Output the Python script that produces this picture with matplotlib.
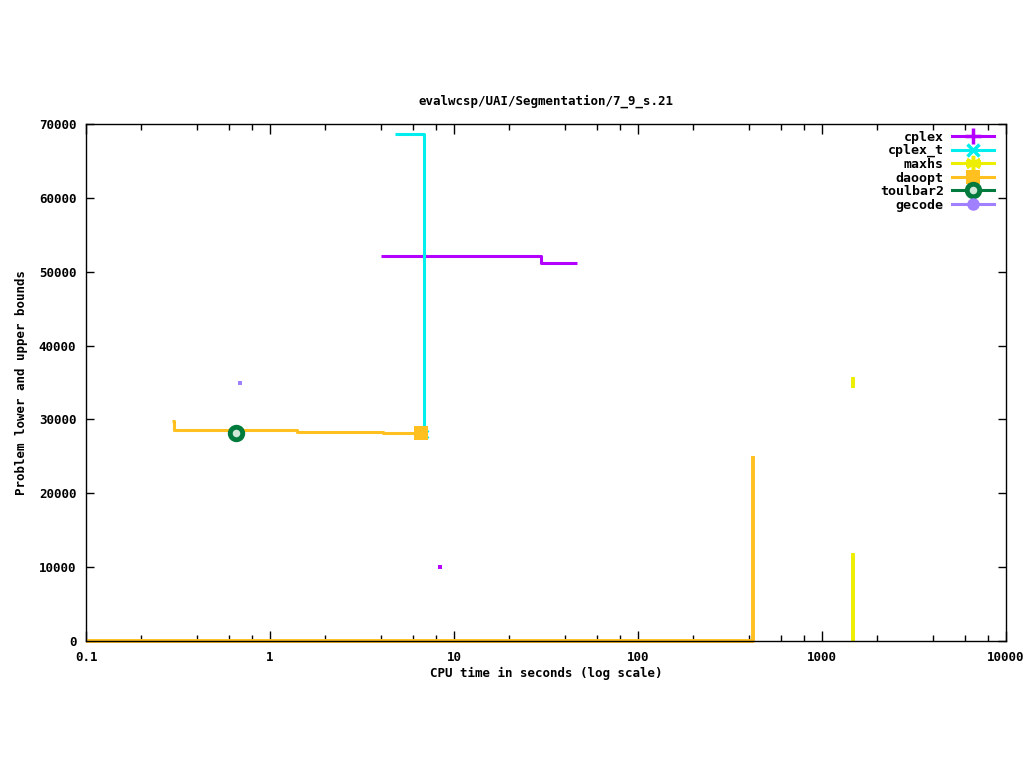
import numpy as np
import matplotlib
matplotlib.use("Agg")
import matplotlib.pyplot as plt
from matplotlib.ticker import LogLocator, FixedLocator, NullFormatter

# ---- data ----
cplex_t_x = [4.78, 6.87, 6.87]
cplex_t_y = [68700, 68700, 27500]

cplex_x = [4.0, 29.7, 29.7, 46.6]
cplex_y = [52100, 52100, 51200, 51200]
cplex_dot_x = [8.4]
cplex_dot_y = [10000]

maxhs_up_x = [1472, 1472]
maxhs_up_y = [35800, 34300]
maxhs_lo_x = [1472, 1472]
maxhs_lo_y = [0, 11900]

daoopt_up_x = [0.293, 0.30, 0.30, 1.40, 1.40, 4.11, 4.11, 6.62]
daoopt_up_y = [29800, 29800, 28550, 28550, 28300, 28300, 28100, 28100]
daoopt_lo_x = [0.1, 421, 421]
daoopt_lo_y = [0, 0, 25000]

toulbar2_x = [0.653]
toulbar2_y = [28150]

gecode_x = [0.687]
gecode_y = [34900]

c_cplex = "#b400ff"
c_cplex_t = "#00eeee"
c_maxhs = "#eeee00"
c_daoopt = "#ffc020"
c_toulbar2 = "#007a3d"
c_gecode = "#a080ff"

plt.rcParams['font.family'] = ['DejaVu Sans Mono']
plt.rcParams['font.weight'] = 'bold'
plt.rcParams['axes.titleweight'] = 'bold'
plt.rcParams['axes.labelweight'] = 'bold'
plt.rcParams['font.size'] = 8

fig = plt.figure(figsize=(10.24, 7.68), dpi=100)
ax = fig.add_axes([86/1024, 1 - 641/768, 920/1024, 517/768])

lw = 2.2
asterisk = (6, 2, 0)
# cplex
ax.plot(cplex_x, cplex_y, color=c_cplex, lw=lw, solid_capstyle='butt')
ax.plot(cplex_dot_x, cplex_dot_y, 's', color=c_cplex, ms=2.5, mew=0)
# cplex_t
ax.plot(cplex_t_x, cplex_t_y, color=c_cplex_t, lw=lw, solid_capstyle='butt')
ax.plot(cplex_t_x[-1], 28000, 'x', color=c_cplex_t, ms=6, mew=2)
# maxhs
ax.plot(maxhs_up_x, maxhs_up_y, color=c_maxhs, lw=lw + 0.6, solid_capstyle='butt')
ax.plot(maxhs_lo_x, maxhs_lo_y, color=c_maxhs, lw=lw + 0.6, solid_capstyle='butt')
# daoopt
ax.plot(daoopt_up_x, daoopt_up_y, color=c_daoopt, lw=lw, solid_capstyle='butt')
ax.plot(daoopt_lo_x, daoopt_lo_y, color=c_daoopt, lw=lw + 0.6, solid_capstyle='butt', clip_on=False)
ax.plot(daoopt_up_x[-1], daoopt_up_y[-1], 's', color=c_daoopt, ms=10, mew=0, zorder=4)
# toulbar2
ax.plot(toulbar2_x, toulbar2_y, 'o', color=c_toulbar2, ms=9, mfc='#cfe8d8', mew=3.5)
# gecode
ax.plot(gecode_x, gecode_y, 's', color=c_gecode, ms=2.5, mew=0)

# legend proxies
handles = [
    plt.Line2D([], [], color=c_cplex, lw=lw, marker='+', ms=11, mew=2.5),
    plt.Line2D([], [], color=c_cplex_t, lw=lw, marker='x', ms=8, mew=2.5),
    plt.Line2D([], [], color=c_maxhs, lw=lw, marker=asterisk, ms=11, mew=2.5),
    plt.Line2D([], [], color=c_daoopt, lw=lw, marker='s', ms=10, mew=0),
    plt.Line2D([], [], color=c_toulbar2, lw=lw, marker='o', ms=9, mfc='#cfe8d8', mew=3.5),
    plt.Line2D([], [], color=c_gecode, lw=lw, marker='o', ms=9, mew=0),
]
labels = ["cplex", "cplex_t", "maxhs", "daoopt", "toulbar2", "gecode"]
ax.legend(handles, labels, loc='upper right', frameon=False, markerfirst=False,
          handlelength=3.2, handletextpad=0.6, labelspacing=0.04,
          borderaxespad=0.3, fontsize=9.5, bbox_to_anchor=(0.997, 1.005))

ax.set_xscale('log')
ax.set_xlim(0.1, 10000)
ax.set_ylim(0, 70000)
ax.xaxis.set_major_locator(FixedLocator([0.1, 1, 10, 100, 1000, 10000]))
ax.set_xticklabels(["0.1", "1", "10", "100", "1000", "10000"])
ax.xaxis.set_minor_locator(LogLocator(base=10, subs=(2, 4, 6, 8)))
ax.xaxis.set_minor_formatter(NullFormatter())
ax.set_yticks(np.arange(0, 70001, 10000))
ax.tick_params(which='both', direction='in', top=True, right=True, labelsize=9, width=1)
ax.tick_params(which='major', length=7)
ax.tick_params(which='minor', length=4)
ax.tick_params(axis='x', which='major', pad=7)
ax.tick_params(axis='y', which='major', length=6, pad=7)
for s in ax.spines.values():
    s.set_linewidth(1)
    s.set_zorder(5)

ax.set_title("evalwcsp/UAI/Segmentation/7_9_s.21", fontsize=9, pad=14)
ax.set_xlabel("CPU time in seconds (log scale)", fontsize=9, labelpad=2)
ax.set_ylabel("Problem lower and upper bounds", fontsize=9, labelpad=8)

fig.savefig("out.png", dpi=100)
